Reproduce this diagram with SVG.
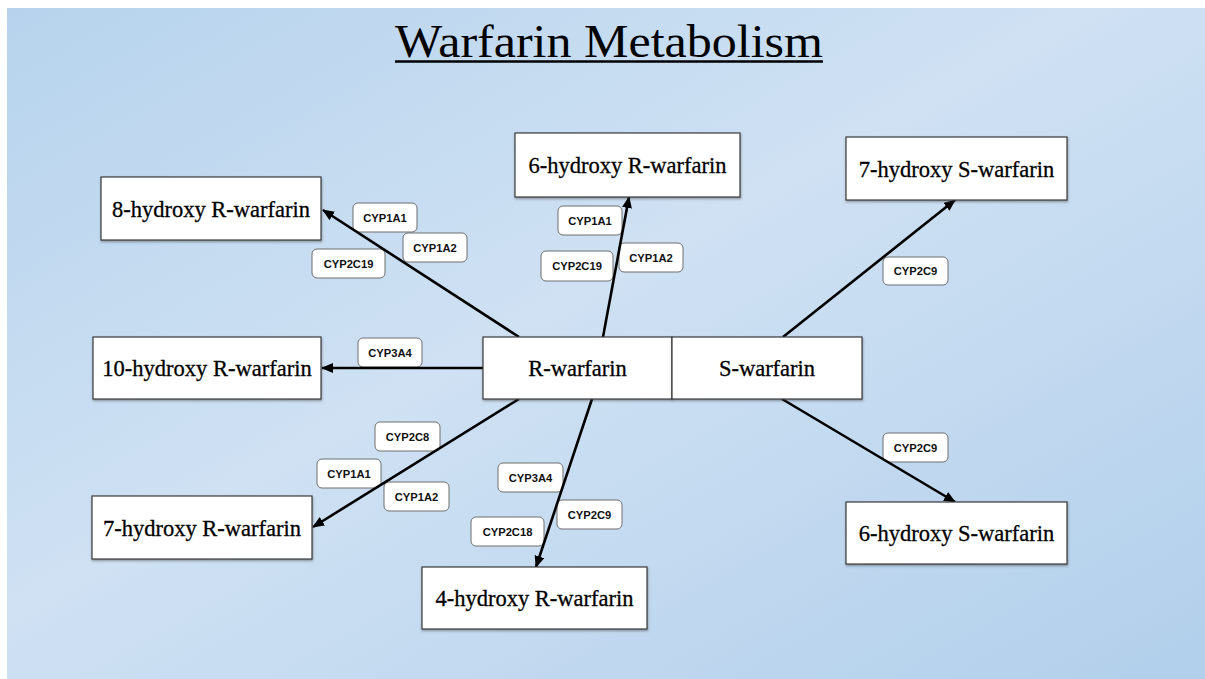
<svg xmlns="http://www.w3.org/2000/svg" width="1205" height="679" viewBox="0 0 1205 679">
  <defs>
    <linearGradient id="bg" x1="0" y1="0" x2="1" y2="1">
      <stop offset="0" stop-color="#b6d3ed"/>
      <stop offset="0.45" stop-color="#cfe1f3"/>
      <stop offset="0.55" stop-color="#cadef2"/>
      <stop offset="1" stop-color="#b1cfeb"/>
    </linearGradient>
    <filter id="sh" x="-5%" y="-10%" width="110%" height="130%">
      <feDropShadow dx="0.5" dy="1.5" stdDeviation="0.8" flood-color="#333" flood-opacity="0.45"/>
    </filter>
    <marker id="arr" markerUnits="userSpaceOnUse" markerWidth="13" markerHeight="11" refX="11" refY="5" orient="auto">
      <path d="M0,0 L12,5 L0,10 Z" fill="#000"/>
    </marker>
    <style>
      .node rect { fill: #ffffff; stroke: #3a3a3a; stroke-width: 1.2; filter: url(#sh); }
      .node text { font-family: "Liberation Serif", "Times New Roman", serif; font-size: 22.5px; fill: #000; stroke: #000; stroke-width: 0.3; text-anchor: middle; }
      .lbl rect { fill: #ffffff; stroke: #6e6e6e; stroke-width: 1; }
      .lbl text { font-family: "Liberation Sans", Arial, sans-serif; font-weight: bold; font-size: 11.2px; fill: #111; text-anchor: middle; }
      .conn line { stroke: #000; stroke-width: 2.6; marker-end: url(#arr); }
    </style>
  </defs>

  <rect x="0" y="0" width="1205" height="679" fill="#ffffff"/>
  <rect x="7" y="8" width="1198" height="671" fill="url(#bg)"/>

  <g id="title">
    <text x="609" y="57" font-family="Liberation Serif, 'Times New Roman', serif" font-size="46" fill="#000" text-anchor="middle" textLength="428" lengthAdjust="spacingAndGlyphs">Warfarin Metabolism</text>
    <line x1="395" y1="61.5" x2="823" y2="61.5" stroke="#000" stroke-width="2.5"/>
  </g>

  <g id="labels">
    <g class="lbl" id="l-8-1a1"><rect x="353" y="203" width="64" height="29" rx="5"/><text x="385" y="221.5">CYP1A1</text></g>
    <g class="lbl" id="l-8-1a2"><rect x="403" y="233" width="64" height="29" rx="5"/><text x="435" y="251.5">CYP1A2</text></g>
    <g class="lbl" id="l-8-2c19"><rect x="312" y="249" width="73" height="29" rx="5"/><text x="348.5" y="267.5">CYP2C19</text></g>

    <g class="lbl" id="l-6r-1a1"><rect x="558" y="206" width="64" height="29" rx="5"/><text x="590" y="224.5">CYP1A1</text></g>
    <g class="lbl" id="l-6r-2c19"><rect x="541" y="251" width="72" height="30" rx="5"/><text x="577" y="270">CYP2C19</text></g>
    <g class="lbl" id="l-6r-1a2"><rect x="619" y="243" width="64" height="29" rx="5"/><text x="651" y="261.5">CYP1A2</text></g>

    <g class="lbl" id="l-10-3a4"><rect x="358" y="338" width="64" height="29" rx="5"/><text x="390" y="356.5">CYP3A4</text></g>

    <g class="lbl" id="l-7r-2c8"><rect x="375" y="422" width="65" height="29" rx="5"/><text x="407.5" y="440.5">CYP2C8</text></g>
    <g class="lbl" id="l-7r-1a1"><rect x="317" y="459" width="64" height="29" rx="5"/><text x="349" y="477.5">CYP1A1</text></g>
    <g class="lbl" id="l-7r-1a2"><rect x="384" y="482" width="65" height="29" rx="5"/><text x="416.5" y="500.5">CYP1A2</text></g>

    <g class="lbl" id="l-4-3a4"><rect x="498" y="463" width="65" height="29" rx="5"/><text x="530.5" y="481.5">CYP3A4</text></g>
    <g class="lbl" id="l-4-2c9"><rect x="557" y="500" width="65" height="29" rx="5"/><text x="589.5" y="518.5">CYP2C9</text></g>
    <g class="lbl" id="l-4-2c18"><rect x="471" y="517" width="73" height="29" rx="5"/><text x="507.5" y="535.5">CYP2C18</text></g>

    <g class="lbl" id="l-7s-2c9"><rect x="883" y="257" width="65" height="28" rx="5"/><text x="915.5" y="275">CYP2C9</text></g>
    <g class="lbl" id="l-6s-2c9"><rect x="883" y="433" width="65" height="29" rx="5"/><text x="915.5" y="451.5">CYP2C9</text></g>
  </g>

  <g id="connectors" class="conn">
    <line x1="519" y1="337" x2="323" y2="210"/>
    <line x1="483" y1="368" x2="322" y2="368"/>
    <line x1="603" y1="337" x2="629" y2="197"/>
    <line x1="519" y1="399" x2="313" y2="527"/>
    <line x1="592" y1="399" x2="536" y2="567"/>
    <line x1="783" y1="337" x2="955" y2="200"/>
    <line x1="782" y1="399" x2="955" y2="502"/>
  </g>

  <g id="n-8-hydroxy-R" class="node"><rect x="101" y="177" width="220" height="63"/><text x="211" y="217">8-hydroxy R-warfarin</text></g>
  <g id="n-6-hydroxy-R" class="node"><rect x="515" y="133" width="225" height="64"/><text x="627.5" y="173">6-hydroxy R-warfarin</text></g>
  <g id="n-7-hydroxy-S" class="node"><rect x="846" y="137" width="221" height="63"/><text x="956.5" y="177">7-hydroxy S-warfarin</text></g>
  <g id="n-10-hydroxy-R" class="node"><rect x="93" y="337" width="228" height="62"/><text x="207" y="376">10-hydroxy R-warfarin</text></g>
  <g id="n-R-warfarin" class="node"><rect x="483" y="337" width="189" height="62"/><text x="577.5" y="376">R-warfarin</text></g>
  <g id="n-S-warfarin" class="node"><rect x="672" y="337" width="190" height="62"/><text x="767" y="376">S-warfarin</text></g>
  <g id="n-7-hydroxy-R" class="node"><rect x="92" y="496" width="220" height="63"/><text x="202" y="536">7-hydroxy R-warfarin</text></g>
  <g id="n-4-hydroxy-R" class="node"><rect x="422" y="567" width="225" height="62"/><text x="534.5" y="606">4-hydroxy R-warfarin</text></g>
  <g id="n-6-hydroxy-S" class="node"><rect x="846" y="502" width="221" height="62"/><text x="956.5" y="541">6-hydroxy S-warfarin</text></g>
</svg>
